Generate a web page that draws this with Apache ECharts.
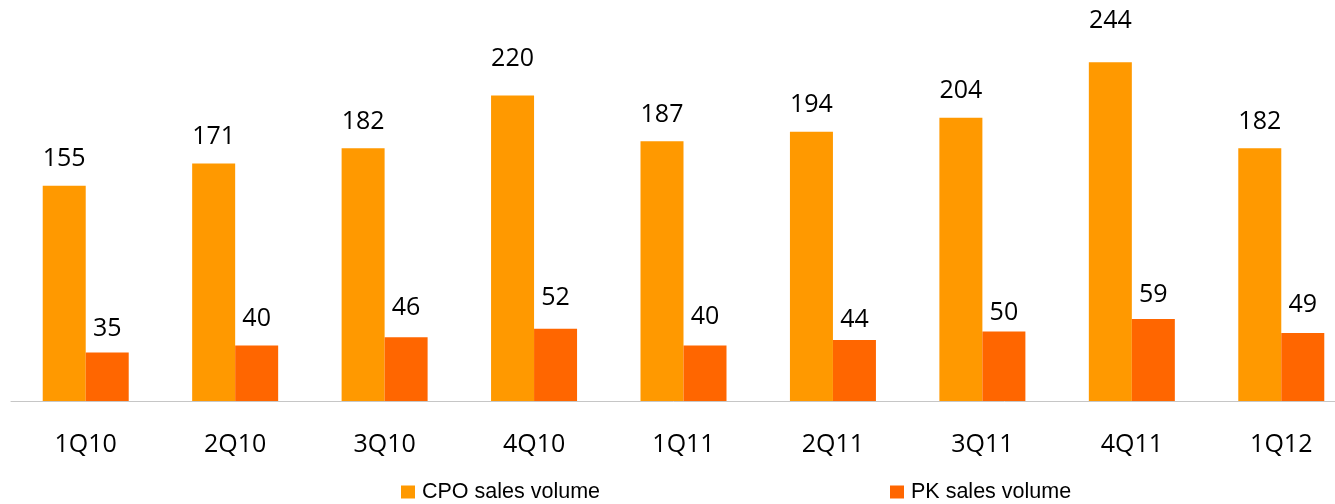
<!DOCTYPE html>
<html>
<head>
<meta charset="utf-8">
<script src="https://cdn.jsdelivr.net/npm/echarts@6/dist/echarts.min.js"></script>
<style>
  html, body { margin: 0; padding: 0; background: #fff; }
  #chart { width: 1335px; height: 504px; }
</style>
</head>
<body>
<div id="chart"></div>
<script>
// quarters and sales volumes
const quarters = ['1Q10', '2Q10', '3Q10', '4Q10', '1Q11', '2Q11', '3Q11', '4Q11', '1Q12'];
const cpoVolume = [155, 171, 182, 220, 187, 194, 204, 244, 182];
const pkVolume = [35, 40, 46, 52, 40, 44, 50, 59, 49];

// the original labels were dragged by hand, so a few sit higher or lower
const cpoLabelNudge = [0, 0, 0, -10, 0, 0, 0, -15, 0];
const pkLabelNudge = [3, 0, -3, -4, -2, 6, 8, 2, -2];

const labelFont = '"Open Sans", "Noto Sans", sans-serif';
const legendFont = '"Liberation Sans", Arial, sans-serif';

function withNudge(values, nudge) {
    return values.map(function (v, i) {
        return { value: v, label: { offset: [0, nudge[i]] } };
    });
}

let chart = echarts.init(document.getElementById('chart'));

let option = {
    backgroundColor: '#fff',
    animation: false,
    // plot runs past the right edge, like the cropped original
    grid: { left: 11, width: 1345, top: 40, bottom: 103, outerBoundsMode: 'none', containLabel: false },
    legend: [
        {
            data: ['CPO sales volume'],
            left: 401, top: 481, padding: 0,
            icon: 'rect', itemWidth: 14, itemHeight: 13, itemGap: 0,
            textStyle: { fontFamily: legendFont, fontSize: 21.5, color: '#000', padding: [0, 0, 0, 2] }
        },
        {
            data: ['PK sales volume'],
            left: 890, top: 481, padding: 0,
            icon: 'rect', itemWidth: 14, itemHeight: 13, itemGap: 0,
            textStyle: { fontFamily: legendFont, fontSize: 21.5, color: '#000', padding: [0, 0, 0, 2] }
        }
    ],
    xAxis: {
        type: 'category',
        data: quarters,
        axisLine: { lineStyle: { color: '#c6c6c6', width: 1 } },
        axisTick: { show: false },
        axisLabel: { margin: 31, fontFamily: labelFont, fontSize: 25, color: '#000' }
    },
    yAxis: {
        type: 'value',
        min: 0, max: 260,
        show: false,
        splitLine: { show: false }
    },
    series: [
        {
            name: 'CPO sales volume',
            type: 'bar',
            data: withNudge(cpoVolume, cpoLabelNudge),
            barWidth: 43,
            barGap: '0%',
            itemStyle: { color: '#FF9900' },
            label: { show: true, position: 'top', distance: 14, fontFamily: labelFont, fontSize: 25, color: '#000' }
        },
        {
            name: 'PK sales volume',
            type: 'bar',
            data: withNudge(pkVolume, pkLabelNudge),
            barWidth: 43,
            barGap: '0%',
            itemStyle: { color: '#FF6600' },
            label: { show: true, position: 'top', distance: 14, fontFamily: labelFont, fontSize: 25, color: '#000' }
        }
    ]
};

chart.setOption(option);
</script>
</body>
</html>
